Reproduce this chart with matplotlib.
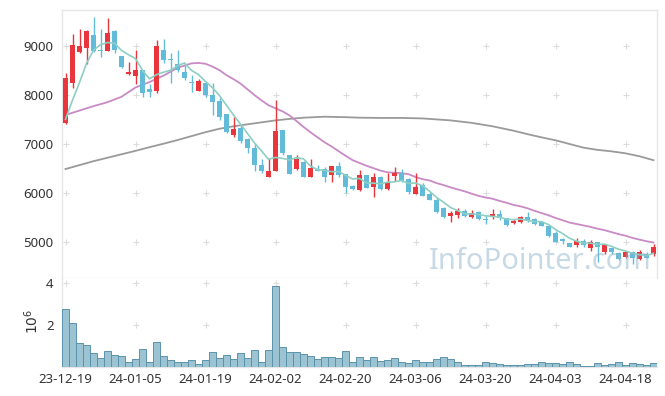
import numpy as np
import pandas as pd
import matplotlib
matplotlib.use("Agg")
import matplotlib.pyplot as plt

plt.rcParams['font.family'] = ['Noto Sans', 'DejaVu Sans']

# trading days (KRX), 23-12-19 .. 24-04-24
dates = ["23-12-19", "23-12-20", "23-12-21", "23-12-22", "23-12-26", "23-12-27", "23-12-28",
         "24-01-02", "24-01-03", "24-01-04", "24-01-05", "24-01-08", "24-01-09", "24-01-10",
         "24-01-11", "24-01-12", "24-01-15", "24-01-16", "24-01-17", "24-01-18", "24-01-19",
         "24-01-22", "24-01-23", "24-01-24", "24-01-25", "24-01-26", "24-01-29", "24-01-30",
         "24-01-31", "24-02-01", "24-02-02", "24-02-05", "24-02-06", "24-02-07", "24-02-08",
         "24-02-13", "24-02-14", "24-02-15", "24-02-16", "24-02-19", "24-02-20", "24-02-21",
         "24-02-22", "24-02-23", "24-02-26", "24-02-27", "24-02-28", "24-02-29", "24-03-04",
         "24-03-05", "24-03-06", "24-03-07", "24-03-08", "24-03-11", "24-03-12", "24-03-13",
         "24-03-14", "24-03-15", "24-03-18", "24-03-19", "24-03-20", "24-03-21", "24-03-22",
         "24-03-25", "24-03-26", "24-03-27", "24-03-28", "24-03-29", "24-04-01", "24-04-02",
         "24-04-03", "24-04-04", "24-04-05", "24-04-08", "24-04-09", "24-04-11", "24-04-12",
         "24-04-15", "24-04-16", "24-04-17", "24-04-18", "24-04-19", "24-04-22", "24-04-23",
         "24-04-24"]

opens = [7420, 8240, 8880, 8950, 9220, 8910, 8900, 9300, 8780, 8430, 8390, 8500, 8120, 8080,
         8910, 8720, 8630, 8470, 8270, 8080, 8240, 8000, 7880, 7610, 7180, 7320, 7100, 6910,
         6570, 6330, 6460, 7280, 6780, 6490, 6640, 6330, 6500, 6500, 6360, 6550, 6390, 6150,
         6060, 6370, 6130, 6320, 6080, 6350, 6410, 6280, 5980, 6160, 5980, 5870, 5690, 5540,
         5560, 5640, 5510, 5620, 5470, 5510, 5580, 5490, 5400, 5420, 5520, 5470, 5420, 5330,
         5180, 5060, 4980, 4940, 5030, 4880, 5000, 4800, 4880, 4780, 4710, 4810, 4650, 4760,
         4760]
highs = [8450, 9240, 9330, 9320, 9580, 9340, 9560, 9320, 8790, 8670, 8910, 8510, 8220, 9120,
         9140, 8850, 8910, 8640, 8400, 8320, 8240, 8240, 7930, 7610, 7540, 7410, 7120, 7010,
         6690, 6710, 7900, 7290, 6780, 6780, 6650, 6690, 6570, 6530, 6560, 6640, 6390, 6170,
         6470, 6370, 6400, 6350, 6400, 6530, 6500, 6300, 6400, 6200, 6030, 5900, 5710, 5640,
         5690, 5670, 5660, 5640, 5530, 5670, 5660, 5500, 5470, 5530, 5620, 5500, 5430, 5350,
         5220, 5090, 4990, 5090, 5070, 5050, 5010, 4960, 4890, 4800, 4820, 4820, 4840, 4800,
         4960]
lows = [7400, 8130, 8850, 8630, 8880, 8770, 8890, 8850, 8540, 8400, 8220, 7950, 7950, 8030,
        8650, 8250, 8470, 8300, 8060, 8080, 7950, 7590, 7490, 7220, 7140, 7010, 6810, 6440,
        6400, 6320, 6440, 6780, 6380, 6470, 6320, 6320, 6440, 6220, 6220, 6320, 6000, 6060,
        6050, 6100, 5920, 6060, 6060, 6250, 6220, 5980, 5980, 5940, 5860, 5600, 5490, 5420,
        5490, 5510, 5490, 5450, 5370, 5470, 5450, 5340, 5380, 5400, 5420, 5350, 5330, 5110,
        5000, 4960, 4900, 4910, 4910, 4820, 4590, 4770, 4770, 4640, 4690, 4550, 4640, 4670,
        4730]
closes = [8340, 9010, 8990, 9300, 8900, 8890, 9250, 8910, 8570, 8460, 8500, 8040, 8060, 8990,
          8710, 8700, 8500, 8340, 8240, 8280, 8000, 7860, 7540, 7250, 7300, 7070, 6910, 6570,
          6440, 6450, 7260, 6820, 6390, 6690, 6330, 6520, 6460, 6320, 6550, 6360, 6130, 6080,
          6370, 6110, 6320, 6080, 6230, 6410, 6250, 6020, 6120, 5950, 5860, 5620, 5520, 5590,
          5640, 5530, 5600, 5470, 5450, 5580, 5490, 5350, 5430, 5510, 5440, 5380, 5340, 5130,
          5010, 5030, 4910, 5030, 4940, 5000, 4900, 4940, 4800, 4660, 4810, 4670, 4800, 4690,
          4910]
# closes before the window, needed for the first 5-day averages
pre_closes = [7050, 7200, 7360, 7550]

volume = [2.75, 2.08, 1.13, 1.03, 0.65, 0.41, 0.75, 0.56, 0.51, 0.24, 0.37, 0.84, 0.24, 1.18,
          0.51, 0.32, 0.22, 0.22, 0.32, 0.13, 0.32, 0.70, 0.41, 0.57, 0.37, 0.65, 0.41, 0.79,
          0.22, 0.79, 3.84, 0.94, 0.70, 0.70, 0.62, 0.51, 0.37, 0.46, 0.46, 0.41, 0.75, 0.22,
          0.46, 0.32, 0.46, 0.27, 0.32, 0.41, 0.22, 0.17, 0.32, 0.22, 0.22, 0.37, 0.46, 0.37,
          0.22, 0.08, 0.08, 0.08, 0.22, 0.17, 0.13, 0.08, 0.08, 0.08, 0.13, 0.13, 0.25, 0.17,
          0.17, 0.13, 0.22, 0.13, 0.06, 0.04, 0.17, 0.08, 0.13, 0.22, 0.08, 0.17, 0.13, 0.08,
          0.17]  # x 10^6

# 20-day average before enough closes exist in the window
ma20_early_idx = [0, 2, 4, 6, 8, 10, 12, 14, 16, 18]
ma20_early_val = [7590, 7680, 7770, 7850, 7960, 8150, 8260, 8390, 8550, 8640]
# 60-day average (index, price)
ma60_idx = [0, 2, 4, 6, 8, 10, 12, 14, 16, 18, 20, 22, 24, 26, 28, 30, 32, 34, 37, 40, 42,
            45, 48, 51, 55, 58, 61, 64, 66, 68, 70, 72, 74, 76, 78, 80, 82, 84]
ma60_val = [6490, 6570, 6650, 6720, 6790, 6860, 6935, 7005, 7080, 7160, 7240, 7310, 7360,
            7400, 7440, 7480, 7510, 7535, 7555, 7545, 7535, 7530, 7530, 7520, 7480, 7430,
            7360, 7270, 7200, 7135, 7075, 7000, 6925, 6880, 6850, 6810, 6750, 6670]

tick_idx = list(range(0, 85, 10))

o = np.array(opens)
h = np.array(highs)
l = np.array(lows)
c = np.array(closes)
x = np.arange(len(c))
ma5 = pd.Series(pre_closes + closes).rolling(5).mean().to_numpy()[len(pre_closes):]
ma20_late = pd.Series(closes).rolling(20).mean().to_numpy()[19:]
ma20_x = ma20_early_idx + list(range(19, len(closes)))
ma20_y = ma20_early_val + list(ma20_late)

RED = '#e8363c'
BLUE = '#62bcd9'
GRID = '#e6e6e6'

fig = plt.figure(figsize=(6.65, 3.96), dpi=100)
ax = fig.add_axes([62/665, 1-278/396, 595/665, 268/396])
axv = fig.add_axes([62/665, 1-367/396, 595/665, 89/396], sharex=ax)

up = c >= o
cols = np.where(up, RED, BLUE)
ax.vlines(x, l, h, colors=cols, linewidth=1.0, zorder=3)
body = np.maximum(np.abs(c - o), 12)
ax.bar(x, body, bottom=np.minimum(o, c), width=0.62, color=cols, linewidth=0, zorder=4)

ax.plot(ma60_idx, ma60_val, color='#9a9a9a', lw=1.3, zorder=2)
ax.plot(ma20_x, ma20_y, color='#c98ac6', lw=1.3, zorder=2)
ax.plot(x, ma5, color='#8ecfc3', lw=1.2, zorder=5)

ax.text(0.617, 0.035, 'InfoPointer.com', transform=ax.transAxes, fontsize=21,
        color='#90b4cc', alpha=0.5, ha='left', va='baseline', zorder=6)

ax.set_xlim(-0.5, 84.5)
ax.set_ylim(4273, 9726)
yt = [5000, 6000, 7000, 8000, 9000]
ax.set_yticks(yt)
ax.set_yticklabels([str(v) for v in yt])
gx, gy = np.meshgrid(tick_idx, yt)
ax.plot(gx.ravel(), gy.ravel(), '+', color='#dcdcdc', ms=5, mew=0.8, zorder=1, clip_on=False)

axv.bar(x, volume, width=1.0, color='#9cc3d2', edgecolor='#5a93ad', linewidth=0.7, zorder=3)
axv.set_ylim(0, 4.24)
axv.set_yticks([2, 4])
axv.set_yticklabels(['2', '4'])
gx, gy = np.meshgrid(tick_idx, [2, 4])
axv.plot(gx.ravel(), gy.ravel(), '+', color='#dcdcdc', ms=5, mew=0.8, zorder=1, clip_on=False)
axv.set_xticks(tick_idx)
axv.set_xticklabels([dates[i] for i in tick_idx])
fig.text(33/665, 1-321/396, r'$10^6$', rotation=90, ha='center', va='center',
         fontsize=10, color='#333333')

for a in (ax, axv):
    a.tick_params(length=0, labelsize=9.5, colors='#333333', pad=6)
    for s in a.spines.values():
        s.set_color(GRID)
        s.set_linewidth(1.0)
plt.setp(ax.get_xticklabels(), visible=False)
axv.spines['right'].set_visible(False)
axv.spines['top'].set_visible(False)
axv.tick_params(axis='x', pad=4)

fig.savefig('out.png', dpi=100)
